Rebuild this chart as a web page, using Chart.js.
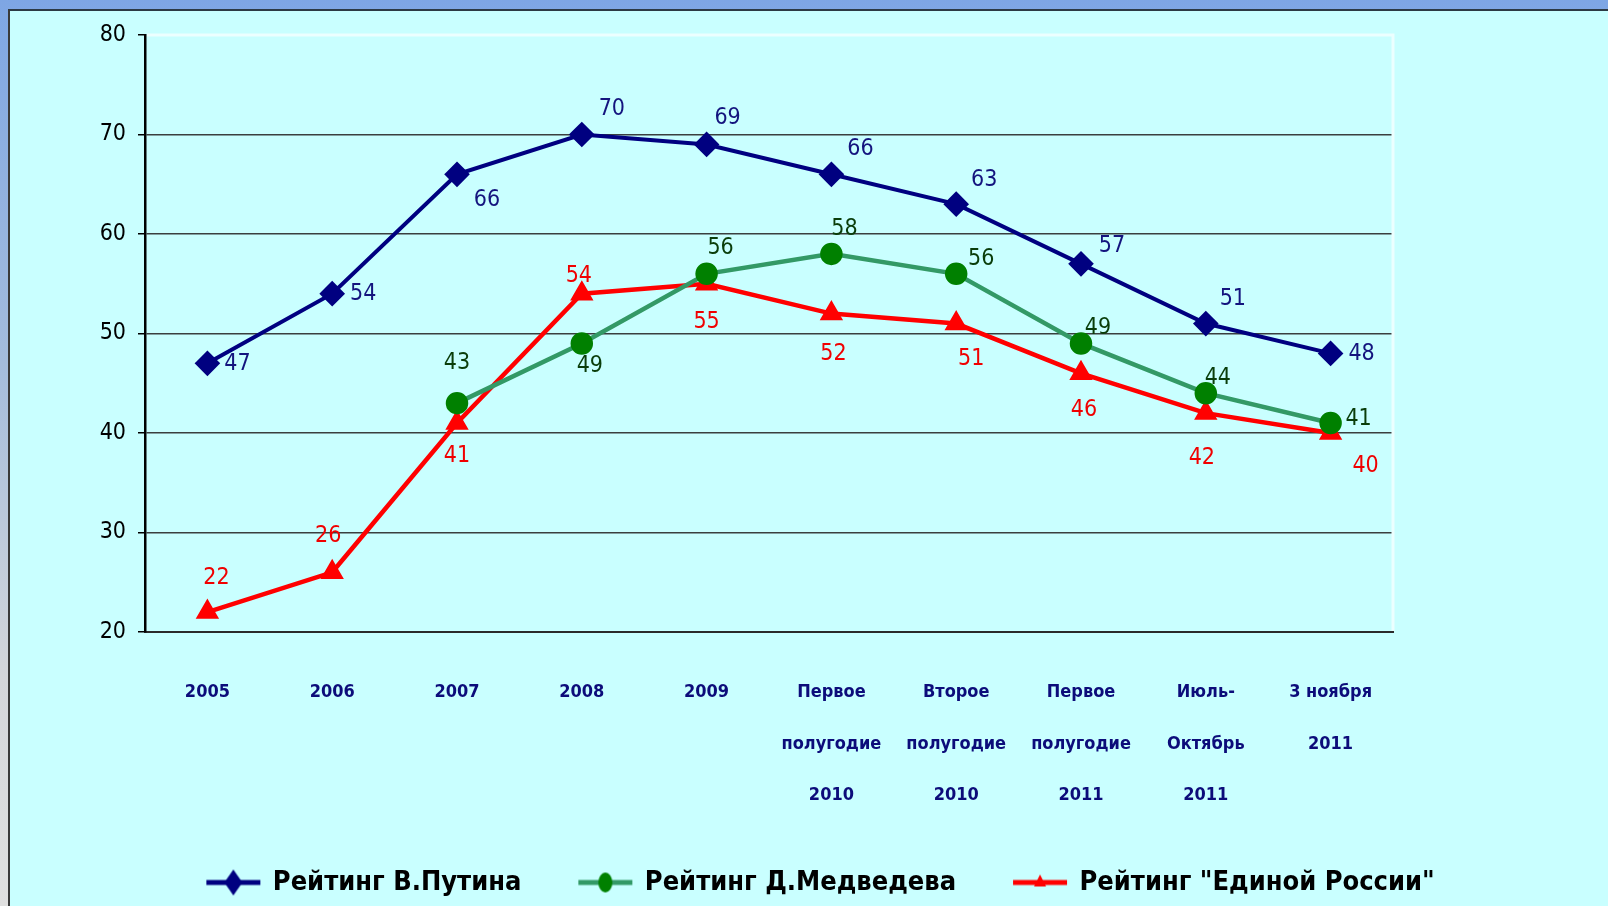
<!DOCTYPE html>
<html>
<head>
<meta charset="utf-8">
<script src="https://cdn.jsdelivr.net/npm/chart.js@4/dist/chart.umd.min.js"></script>
<style>
  html, body { margin: 0; padding: 0; width: 1608px; height: 906px; overflow: hidden; }
  body { background: linear-gradient(to bottom, #7ea6e4 0%, #a4bcdc 40%, #d4d6da 75%, #e0e0e0 100%); position: relative; }
  #panel { position: absolute; left: 8px; top: 9px; width: 1600px; height: 897px; background: #c9ffff;
           border-top: 2px solid #2c3a44; border-left: 2px solid #3a3a3a; box-sizing: border-box; }
  #c { position: absolute; left: 0; top: 0; }
</style>
</head>
<body>
<div id="panel"></div>
<canvas id="c" width="1608" height="906"></canvas>
<script>
// ---- data ----
const categories = [
  ["2005"], ["2006"], ["2007"], ["2008"], ["2009"],
  ["Первое", "полугодие", "2010"],
  ["Второе", "полугодие", "2010"],
  ["Первое", "полугодие", "2011"],
  ["Июль-", "Октябрь", "2011"],
  ["3 ноября", "2011"]
];
const putin    = [47, 54, 66, 70, 69, 66, 63, 57, 51, 48];
const medvedev = [null, null, 43, 49, 56, 58, 56, 49, 44, 41];
const er       = [22, 26, 41, 54, 55, 52, 51, 46, 42, 40];
const seriesNames = ["Рейтинг В.Путина", "Рейтинг Д.Медведева", "Рейтинг \"Единой России\""];
const yTicks = [20, 30, 40, 50, 60, 70, 80];

// label offsets (style only)
const putinLabelOff = [[30,1],[31,0],[30,26],[30,-25],[21,-26],[29,-25],[28,-24],[31,-18],[27,-25],[31,1]];
const medLabelOff   = [null,null,[0,-40],[8,23],[14,-26],[13,-25],[25,-15],[17,-15],[12,-15],[28,-4]];
const erLabelOff    = [[9,-34],[-4,-36],[0,33],[-3,-18],[0,38],[2,40],[15,35],[3,37],[-4,45],[35,33]];

const NARROW = "'Liberation Sans Narrow', 'Arial Narrow', 'DejaVu Sans Condensed', 'Liberation Sans', sans-serif";

function legendIcon(lineColor, markerColor, style) {
  const c = document.createElement('canvas');
  c.width = 56; c.height = 30;
  const g = c.getContext('2d');
  g.strokeStyle = lineColor; g.lineWidth = 5;
  g.beginPath(); g.moveTo(1, 15); g.lineTo(55, 15); g.stroke();
  g.fillStyle = markerColor;
  g.beginPath();
  if (style === 'diamond') { g.moveTo(28, 2); g.lineTo(37, 15); g.lineTo(28, 28); g.lineTo(19, 15); }
  else if (style === 'circle') { g.ellipse(28, 15, 7, 10, 0, 0, Math.PI * 2); }
  else { g.moveTo(28, 7); g.lineTo(34, 19); g.lineTo(22, 19); }
  g.closePath(); g.fill();
  return c;
}
const icons = [
  legendIcon('#000080', '#000080', 'diamond'),
  legendIcon('#339966', '#008000', 'circle'),
  legendIcon('#ff0000', '#ff0000', 'triangle')
];

const labelPlugin = {
  id: 'valueLabels',
  afterDatasetsDraw(chart) {
    const ctx = chart.ctx;
    const offs = [putinLabelOff, medLabelOff, erLabelOff];
    const cols = ['#14147e', '#0a3d0a', '#f00000'];
    ctx.save();
    ctx.font = "23px " + NARROW;
    ctx.textAlign = 'center';
    ctx.textBaseline = 'middle';
    chart.data.datasets.forEach((ds, di) => {
      const meta = chart.getDatasetMeta(di);
      meta.data.forEach((pt, i) => {
        const v = ds.data[i];
        if (v === null || v === undefined || !offs[di][i]) return;
        ctx.fillStyle = cols[di];
        ctx.fillText(String(v), pt.x + offs[di][i][0], pt.y + offs[di][i][1]);
      });
    });
    ctx.restore();
  }
};

const framePlugin = {
  id: 'frame',
  afterLayout(chart) {
    if (chart.legend) { chart.legend.left += 17; chart.legend.right += 17; }
  },
  beforeDatasetsDraw(chart) {
    const a = chart.chartArea, ctx = chart.ctx;
    ctx.save();
    ctx.strokeStyle = '#ecffff';
    ctx.lineWidth = 3;
    ctx.beginPath();
    ctx.moveTo(a.left + 2, a.top);
    ctx.lineTo(a.right, a.top);
    ctx.lineTo(a.right, a.bottom - 1);
    ctx.stroke();
    ctx.restore();
  }
};

new Chart(document.getElementById('c'), {
  type: 'line',
  data: {
    labels: categories,
    datasets: [
      { label: seriesNames[0], data: putin, borderColor: '#000080', backgroundColor: '#000080',
        borderWidth: 4, pointStyle: 'rectRot', pointRadius: 10, pointBackgroundColor: '#000080',
        pointBorderColor: '#000080', tension: 0, yAxisID: 'y' },
      { label: seriesNames[1], data: medvedev, borderColor: '#339966', backgroundColor: '#008000',
        borderWidth: 4.5, pointStyle: 'circle', pointRadius: 9, pointBackgroundColor: '#008000',
        pointBorderColor: '#008000', tension: 0, spanGaps: false, yAxisID: 'y' },
      { label: seriesNames[2], data: er, borderColor: '#ff0000', backgroundColor: '#ff0000',
        borderWidth: 4.5, pointStyle: 'triangle', pointRadius: 9, pointBackgroundColor: '#ff0000',
        pointBorderColor: '#ff0000', tension: 0, yAxisID: 'y' }
    ]
  },
  options: {
    responsive: false,
    animation: false,
    devicePixelRatio: 1,
    layout: { padding: { top: 35, left: 0, right: 0, bottom: 0 } },
    plugins: {
      tooltip: { enabled: false },
      legend: {
        position: 'bottom',
        labels: {
          font: { family: NARROW, size: 27, weight: 'bold' },
          color: '#000000',
          padding: 58,
          usePointStyle: true,
          pointStyleWidth: 52,
          generateLabels(chart) {
            return chart.data.datasets.map((ds, i) => ({
              text: ds.label, pointStyle: icons[i], datasetIndex: i,
              fillStyle: ds.borderColor, strokeStyle: ds.borderColor, lineWidth: 0, hidden: false
            }));
          }
        }
      }
    },
    scales: {
      x: {
        type: 'category',
        offset: true,
        afterFit(s) { s.height = 179; },
        grid: { display: false, drawTicks: false },
        border: { display: true, color: '#2b2b2b', width: 2 },
        ticks: {
          autoSkip: false, maxRotation: 0, minRotation: 0, padding: 35,
          color: '#0c0c7a',
          font: { family: NARROW, size: 18, weight: 'bold', lineHeight: 2.85 }
        }
      },
      y: {
        position: 'left',
        min: 20, max: 80,
        afterFit(s) { s.width = 145; },
        afterBuildTicks(s) { s.ticks = yTicks.map(v => ({ value: v })); },
        grid: {
          color: (c) => (c.tick && c.tick.value === 80 ? 'rgba(0,0,0,0)' : '#3a3f3f'),
          lineWidth: 1.5,
          drawTicks: true, tickLength: 7, tickColor: '#000000'
        },
        border: { display: true, color: '#000000', width: 2.5 },
        ticks: {
          padding: 12, color: '#000000',
          font: { family: NARROW, size: 23 }
        }
      },
      yR: {
        position: 'right',
        min: 20, max: 80,
        afterFit(s) { s.width = 215; },
        grid: { display: false, drawTicks: false },
        border: { display: false },
        ticks: { display: false }
      }
    }
  },
  plugins: [framePlugin, labelPlugin]
});
</script>
</body>
</html>
